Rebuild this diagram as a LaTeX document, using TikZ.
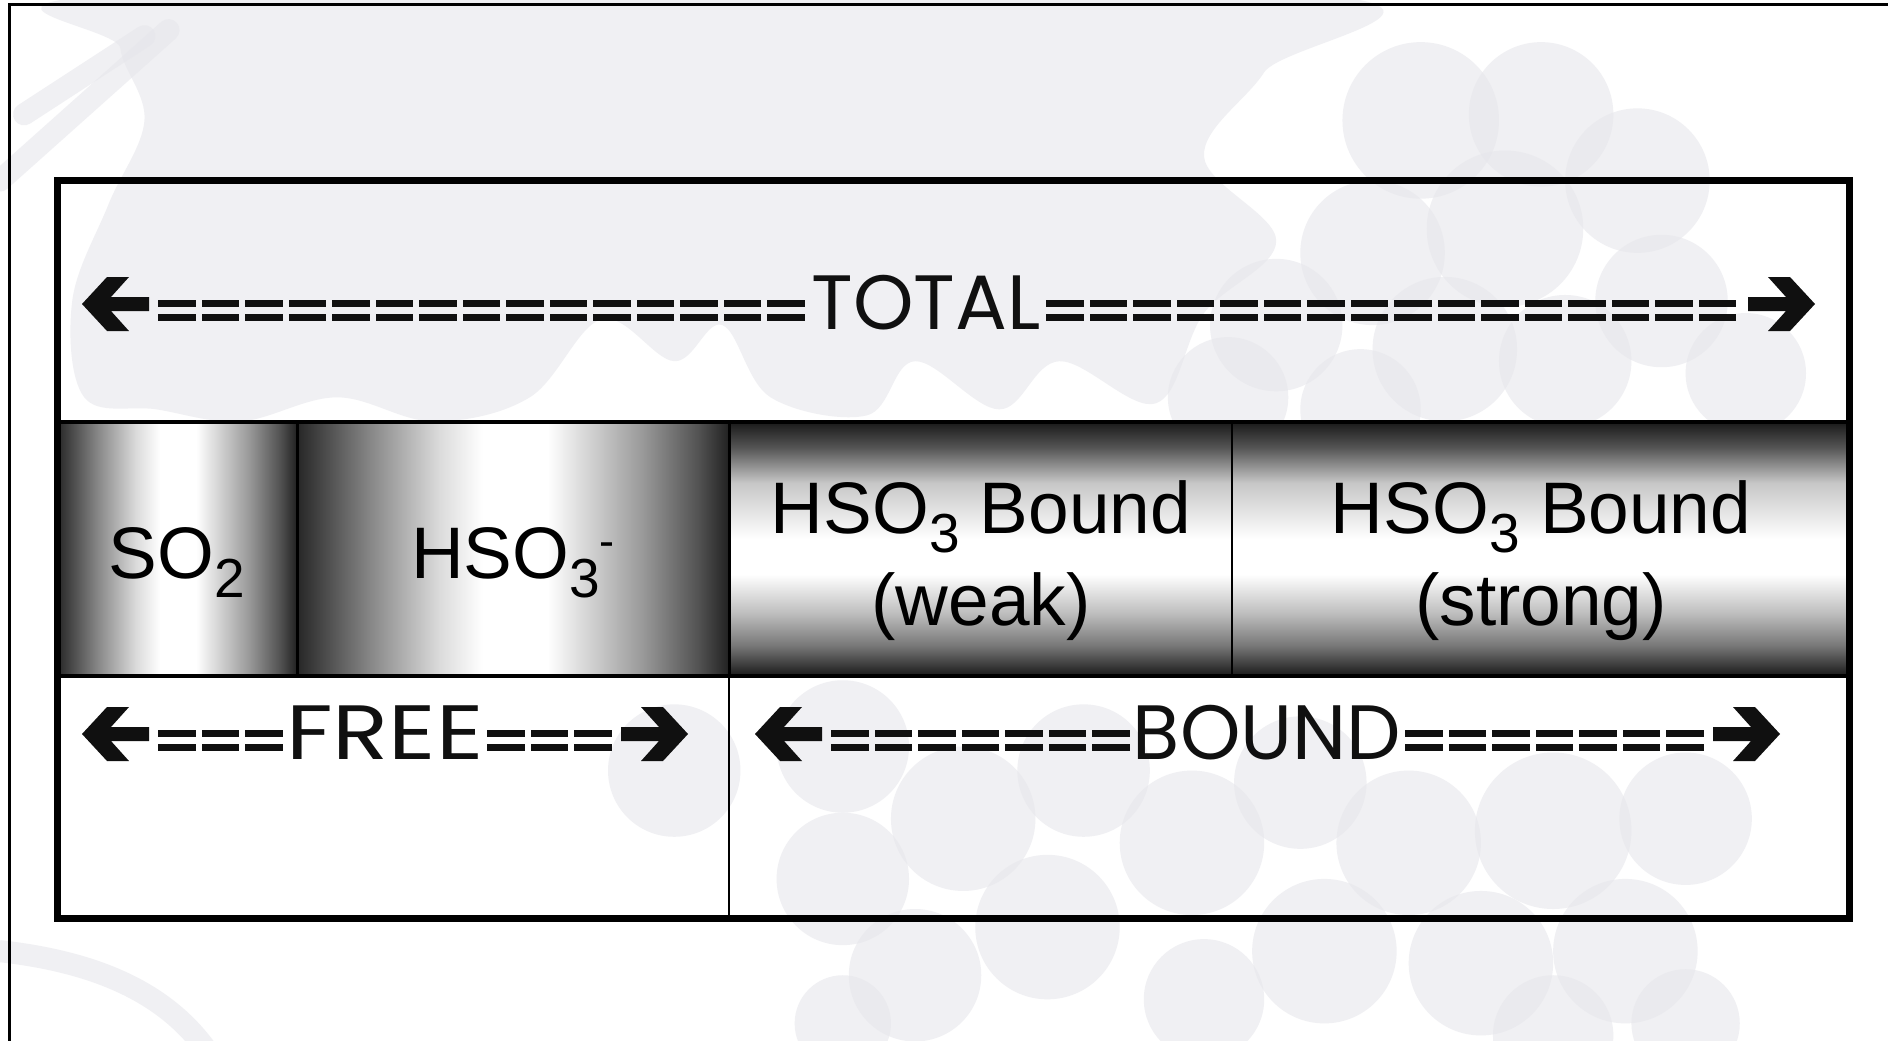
\documentclass[tikz,border=0pt]{standalone}
\usepackage{fontspec}
\setmainfont{Liberation Sans}
\newfontfamily\geofont{Poppins}
\definecolor{wm}{RGB}{230,230,235}
\definecolor{ink}{RGB}{16,16,16}

% grey cylinder shadings for the species bar
\pgfdeclarehorizontalshading{cylx}{100bp}{color(0bp)=(black!85); color(25bp)=(black!85); color(33.5bp)=(black!47); color(41.5bp)=(black!14); color(46.5bp)=(white); color(54bp)=(white); color(65bp)=(black!40); color(71.5bp)=(black!68); color(75bp)=(black!87); color(100bp)=(black!87)}
\pgfdeclareverticalshading{cyly}{100bp}{color(0bp)=(black!90); color(25bp)=(black!90); color(31bp)=(black!53); color(37.5bp)=(black!25); color(45bp)=(white); color(52bp)=(white); color(63bp)=(black!22); color(70bp)=(black!67); color(75bp)=(black!90); color(100bp)=(black!90)}

\newcommand\chemsub[1]{\raisebox{-19pt}{\fontsize{55}{60}\selectfont #1}}
\newcommand\chemsup[1]{\raisebox{22pt}{\fontsize{45}{50}\selectfont #1}}

% heavy arrow glyph, tip at (0,0)
\newcommand\heavyarrow{(0,0) -- (-25,-27) -- (-47,-27) -- (-29,-7) -- (-67,-7) -- (-67,7) -- (-29,7) -- (-47,27) -- (-25,27) -- cycle}
% run of "=" bars: start x, count, cap centre y
\newcommand\eqrun[3]{\foreach \k in {1,...,#2}{%
  \fill[ink] ({#1+(\k-1)*43.5},{#3-2.5}) rectangle ++(37.5,7.5);
  \fill[ink] ({#1+(\k-1)*43.5},{#3+11.5}) rectangle ++(37.5,7.5);}}

\begin{document}
\begin{tikzpicture}[x=1pt,y=-1pt,
  wmark/.style={fill=wm, fill opacity=0.6, draw=none},
  wstem/.style={draw=wm, draw opacity=0.6, line width=22pt, line cap=round},
  frameline/.style={line width=3pt},
  boxline/.style={line width=7pt},
  rowline/.style={line width=3.5pt},
  divider/.style={line width=3pt},
  thindivider/.style={line width=2pt},
  biglabel/.style={font=\geofont\fontsize{77}{80}\selectfont, inner sep=0pt, anchor=base, text=ink},
  cell/.style={font=\fontsize{73}{80}\selectfont, inner sep=0pt, anchor=base}]
\useasboundingbox (0,0) rectangle (1888,1041);
\fill[white] (0,0) rectangle (1888,1041);

% faint grape-and-leaf watermark
\begin{scope}[scale=1.204]
  \fill[wmark] plot[smooth cycle, tension=0.6] coordinates {(110,-5) (1085,-5) (1050,60) (1000,130) (1060,200) (1000,260) (960,335) (880,300) (830,340) (760,300) (720,345) (640,330) (600,270) (560,300) (500,265) (440,330) (360,350) (280,330) (200,350) (130,340) (70,330) (60,250) (90,170) (120,100) (100,40)};
  \draw[wstem] (0,150) -- (140,25);
  \draw[wstem] (20,95) -- (120,30);
  \draw[wstem] (0,790) .. controls (90,800) and (140,830) .. (170,870);
  \foreach \cx/\cy/\r in {1180/100/65, 1280/95/60, 1360/150/60, 1250/190/65, 1140/210/60, 1380/250/55, 1060/270/55, 1200/290/60, 1300/300/55, 1450/310/50, 1020/330/50, 1130/340/50,
      560/640/55, 700/620/55, 800/680/60, 700/730/55, 900/640/55, 990/700/60, 870/770/60, 760/810/55, 1080/650/55, 1170/700/60, 1290/690/65, 1400/680/55, 1100/790/60, 1230/800/60, 1350/790/60, 1000/830/50, 1290/860/50, 1400/850/45, 700/850/40}
    \fill[wmark] (\cx,\cy) circle (\r);
\end{scope}

% slide frame
\draw[frameline] (9,1045) -- (9,5) -- (1892,5);

% species bar
\shade[shading=cylx] (57,422) rectangle (297,676);
\shade[shading=cylx] (297,422) rectangle (729,676);
\shade[shading=cyly] (729,422) rectangle (1232,676);
\shade[shading=cyly] (1232,422) rectangle (1849,676);
\draw[rowline] (57,422) -- (1849,422);
\draw[rowline] (57,676) -- (1849,676);
\draw[divider] (297,422) -- (297,676);
\draw[divider] (729,422) -- (729,676);
\draw[thindivider] (1232,422) -- (1232,676);
\draw[thindivider] (729,676) -- (729,918);

% outer box
\draw[boxline] (57,180) rectangle (1849,918);

% species labels
\node[cell] (so2) at (177,578) {SO\chemsub{2}};
\node[cell] (hso3) at (513,578) {HSO\chemsub{3}\chemsup{-}};
\node[cell] (weaka) at (981,533) {HSO\chemsub{3} Bound};
\node[cell] (weakb) at (981,625) {(weak)};
\node[cell] (stronga) at (1541,533) {HSO\chemsub{3} Bound};
\node[cell] (strongb) at (1541,625) {(strong)};

% TOTAL span
\node[biglabel] (total) at (926,329) {TOTAL};
\fill[ink, shift={(82,304)}, xscale=-1] \heavyarrow;
\eqrun{158}{15}{302}
\eqrun{1046}{16}{302}
\fill[ink, shift={(1815,304)}] \heavyarrow;

% FREE span
\node[biglabel] (free) at (385,759) {\scalebox{1.2}[1]{FREE}};
\fill[ink, shift={(82,734)}, xscale=-1] \heavyarrow;
\eqrun{158}{3}{732}
\eqrun{487}{3}{732}
\fill[ink, shift={(688,734)}] \heavyarrow;

% BOUND span
\node[biglabel] (bound) at (1267,759) {BOUND};
\fill[ink, shift={(755,734)}, xscale=-1] \heavyarrow;
\eqrun{831}{7}{732}
\eqrun{1405}{7}{732}
\fill[ink, shift={(1780,734)}] \heavyarrow;
\end{tikzpicture}
\end{document}
